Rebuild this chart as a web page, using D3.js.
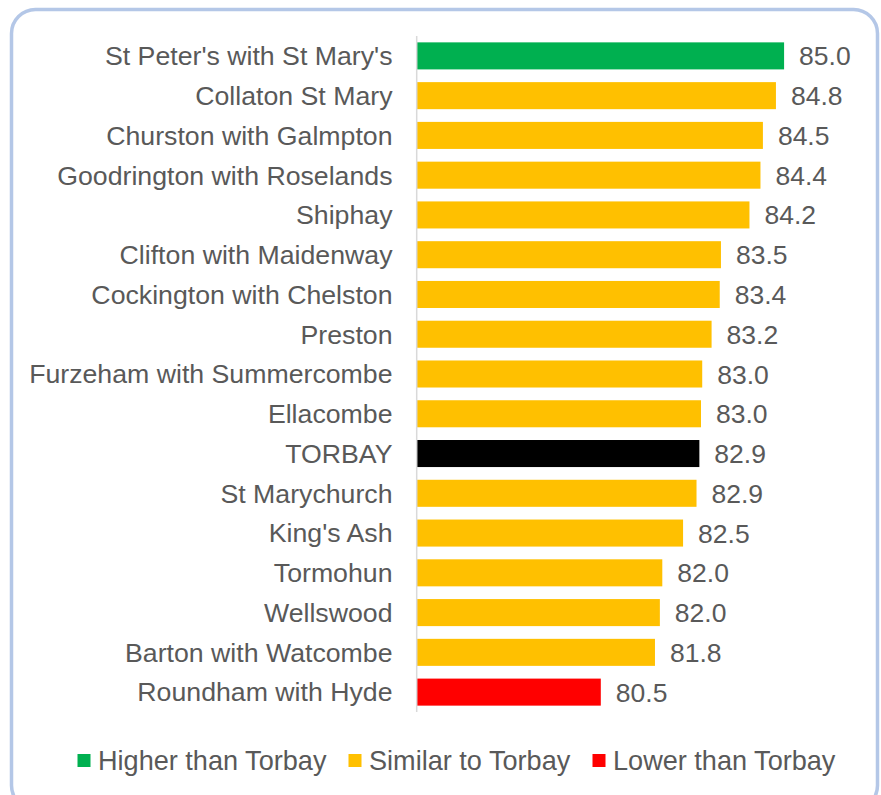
<!DOCTYPE html>
<html>
<head>
<meta charset="utf-8">
<script src="https://cdn.jsdelivr.net/npm/d3@7/dist/d3.min.js"></script>
<style>
  html, body { margin: 0; padding: 0; background: #ffffff; }
  svg { display: block; }
</style>
</head>
<body>
<svg id="chart" width="881" height="795"></svg>
<script>
const categories = [
  "St Peter's with St Mary's", "Collaton St Mary", "Churston with Galmpton",
  "Goodrington with Roselands", "Shiphay", "Clifton with Maidenway",
  "Cockington with Chelston", "Preston", "Furzeham with Summercombe",
  "Ellacombe", "TORBAY", "St Marychurch", "King's Ash", "Tormohun",
  "Wellswood", "Barton with Watcombe", "Roundham with Hyde"
];
const values = [85.02, 84.82, 84.5, 84.44, 84.17, 83.47, 83.44, 83.24, 83.01,
  82.98, 82.94, 82.87, 82.54, 82.03, 81.97, 81.85, 80.52];
const groups = ["Higher", "Similar", "Similar", "Similar", "Similar", "Similar",
  "Similar", "Similar", "Similar", "Similar", "Torbay", "Similar", "Similar",
  "Similar", "Similar", "Similar", "Lower"];
const legendLabels = ["Higher than Torbay", "Similar to Torbay", "Lower than Torbay"];
const legendKeys = ["Higher", "Similar", "Lower"];
const domainX = [76, 86];

const colors = { Higher: "#00b050", Similar: "#ffc000", Lower: "#ff0000", Torbay: "#000000" };
const FONT = "'Liberation Sans', Arial, Helvetica, sans-serif";
const TXT = "#595959";

const svg = d3.select("#chart");

// frame
svg.append("rect")
  .attr("x", 11.5).attr("y", 9.5)
  .attr("width", 866).attr("height", 800)
  .attr("rx", 24).attr("ry", 24)
  .attr("fill", "#ffffff")
  .attr("stroke", "#b4c7e7")
  .attr("stroke-width", 3.5);

const x0 = 416.7;
const x = d3.scaleLinear().domain(domainX).range([x0, x0 + 407.3]);
const y = d3.scaleBand().domain(categories).range([36, 712]).paddingInner(0.32).paddingOuter(0.16);

const data = categories.map((c, i) => ({ c, v: values[i], g: groups[i] }));

svg.append("g").selectAll("rect").data(data).join("rect")
  .attr("x", x(domainX[0]))
  .attr("y", d => y(d.c))
  .attr("width", d => x(d.v) - x(domainX[0]))
  .attr("height", y.bandwidth())
  .attr("fill", d => colors[d.g]);

// axis line
svg.append("line")
  .attr("x1", x0).attr("x2", x0)
  .attr("y1", 36).attr("y2", 712)
  .attr("stroke", "#d9d9d9").attr("stroke-width", 1.5);

// category labels
svg.append("g").selectAll("text").data(data).join("text")
  .attr("x", 392.5)
  .attr("y", d => y(d.c) + y.bandwidth() / 2)
  .attr("dy", "0.35em")
  .attr("text-anchor", "end")
  .attr("font-family", FONT)
  .attr("font-size", 26.7)
  .attr("fill", TXT)
  .text(d => d.c);

// value labels
svg.append("g").selectAll("text").data(data).join("text")
  .attr("x", d => x(d.v) + 15)
  .attr("y", d => y(d.c) + y.bandwidth() / 2)
  .attr("dy", "0.36em")
  .attr("font-family", FONT)
  .attr("font-size", 26.5)
  .attr("fill", TXT)
  .text(d => d3.format(".1f")(d.v));

// legend
const legendX = [77.5, 348.5, 592.5];
const lg = svg.append("g");
legendKeys.forEach((k, i) => {
  lg.append("rect")
    .attr("x", legendX[i]).attr("y", 754)
    .attr("width", 13).attr("height", 13)
    .attr("fill", colors[k]);
  lg.append("text")
    .attr("x", legendX[i] + 20.5).attr("y", 769.5)
    .attr("font-family", FONT)
    .attr("font-size", 27.1)
    .attr("fill", TXT)
    .text(legendLabels[i]);
});
</script>
</body>
</html>
